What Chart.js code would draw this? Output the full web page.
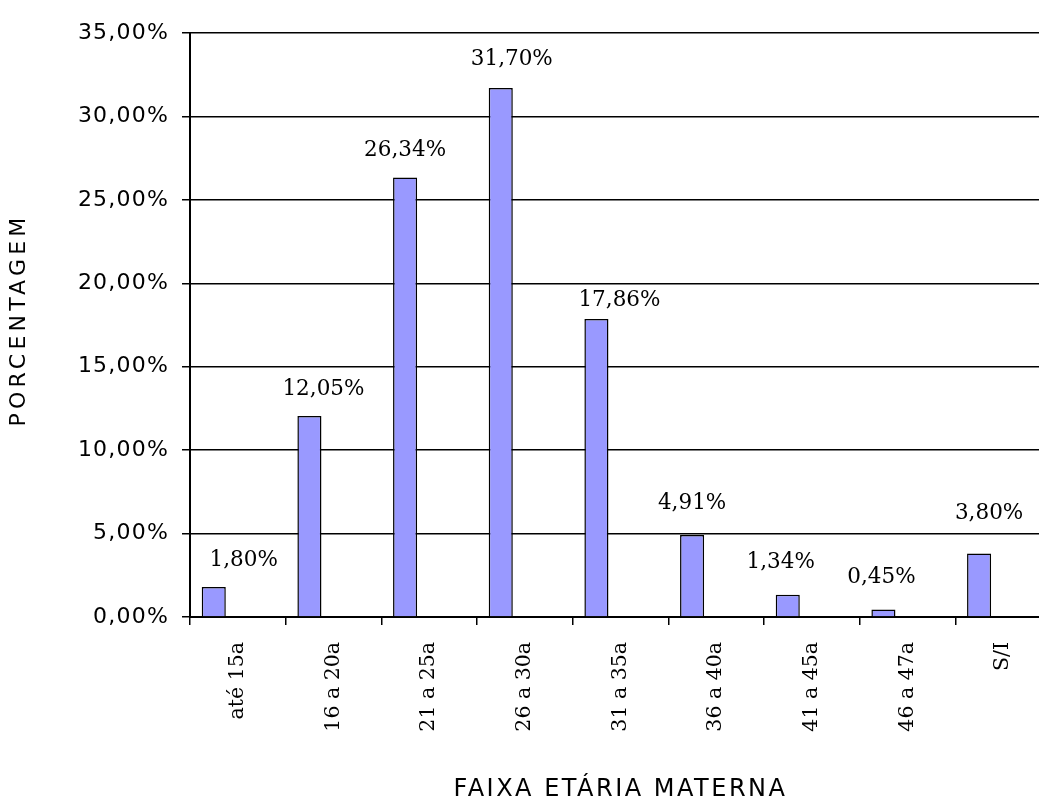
<!DOCTYPE html>
<html>
<head>
<meta charset="utf-8">
<script src="https://cdn.jsdelivr.net/npm/chart.js@4"></script>
<style>
  html, body { margin: 0; padding: 0; background: #fff; overflow: hidden; width: 1039px; height: 805px; }
  canvas { display: block; }
</style>
</head>
<body>
<canvas id="c" width="1052" height="805"></canvas>
<script>
const categories = ['até 15a', '16 a 20a', '21 a 25a', '26 a 30a', '31 a 35a', '36 a 40a', '41 a 45a', '46 a 47a', 'S/I'];
const percentages = [1.80, 12.05, 26.34, 31.70, 17.86, 4.91, 1.34, 0.45, 3.80];
const yTicks = [0, 5, 10, 15, 20, 25, 30, 35];
// label nudges (presentation only)
const labelDx = [30, 14, 0, 11, 23, 0, -7, -2, 10];
const labelRise = [27, 27, 27, 29, 19, 32, 32, 32, 40];

const fmt = v => v.toFixed(2).replace('.', ',') + '%';
const empty = categories.map(() => null);

const yTickFont = { family: 'DejaVu Sans', size: 22, weight: 'normal', lineHeight: 1.2 };
const xTickFont = { family: 'DejaVu Serif', size: 20.5, weight: 'normal', lineHeight: 1.2 };
const xTitleFont = { family: 'DejaVu Sans', size: 24, weight: 'normal', lineHeight: 1.2 };
const yTitleFont = { family: 'DejaVu Sans', size: 22, weight: 'normal', lineHeight: 1.2 };

// letter spacing applied around the library's own title/label drawing
const spacing = { x: { title: '2.5px', ticks: '0px', shift: 0 }, y: { title: '4.2px', ticks: '1.2px', shift: -5 } };
const spacingPlugin = {
  id: 'letterSpacing',
  beforeDraw(chart) {
    ['x', 'y'].forEach(id => {
      const s = chart.scales[id];
      if (!s || s.__patched) return;
      const origTitle = s.drawTitle, origLabels = s.drawLabels;
      s.drawTitle = function (...a) {
        const c = this.ctx; c.save(); c.letterSpacing = spacing[id].title;
        c.translate(0, spacing[id].shift);
        origTitle.apply(this, a); c.restore();
      };
      s.drawLabels = function (...a) {
        const c = this.ctx; c.save(); c.letterSpacing = spacing[id].ticks;
        origLabels.apply(this, a); c.restore();
      };
      s.__patched = true;
    });
  }
};

const labelPlugin = {
  id: 'barLabels',
  afterDatasetsDraw(chart) {
    const ctx = chart.ctx;
    const meta = chart.getDatasetMeta(0);
    ctx.save();
    ctx.font = '21.5px "DejaVu Serif"';
    ctx.fillStyle = '#000';
    ctx.textAlign = 'center';
    ctx.textBaseline = 'middle';
    meta.data.forEach((bar, i) => {
      ctx.fillText(fmt(percentages[i]), bar.x + labelDx[i], bar.y - labelRise[i]);
    });
    ctx.restore();
  }
};

new Chart(document.getElementById('c'), {
  type: 'bar',
  data: {
    labels: categories,
    datasets: [
      { data: percentages, backgroundColor: '#9999FF', borderColor: '#000', borderWidth: 1.5 },
      { data: empty },
      { data: empty }
    ]
  },
  options: {
    responsive: false,
    animation: false,
    events: [],
    categoryPercentage: 0.755,
    barPercentage: 1.0,
    layout: { padding: { left: 6, top: 33, right: 1, bottom: 1 } },
    plugins: { legend: { display: false }, tooltip: { enabled: false } },
    scales: {
      x: {
        offset: true,
        grid: { offset: true, drawOnChartArea: false, drawTicks: true, tickLength: 8, color: '#000', lineWidth: 1.5 },
        border: { display: true, color: '#000', width: 2 },
        ticks: { minRotation: 90, maxRotation: 90, padding: 17, color: '#000', font: xTickFont },
        title: { display: true, text: 'FAIXA ETÁRIA MATERNA', color: '#000', font: xTitleFont, padding: { top: 0, bottom: 0 } },
        afterFit(scale) { scale.height = 187; }
      },
      y: {
        min: 0, max: 35,
        afterBuildTicks(scale) { scale.ticks = yTicks.map(v => ({ value: v })); },
        grid: { color: '#000', lineWidth: 1.5, tickLength: 8, drawTicks: true },
        border: { display: true, color: '#000', width: 2 },
        ticks: { padding: 13, color: '#000', font: yTickFont, callback: v => fmt(v) },
        title: { display: true, text: 'PORCENTAGEM', color: '#000', font: yTitleFont, padding: { top: 0, bottom: 0 } },
        afterFit(scale) { scale.width = 184; }
      }
    }
  },
  plugins: [spacingPlugin, labelPlugin]
});
</script>
</body>
</html>
